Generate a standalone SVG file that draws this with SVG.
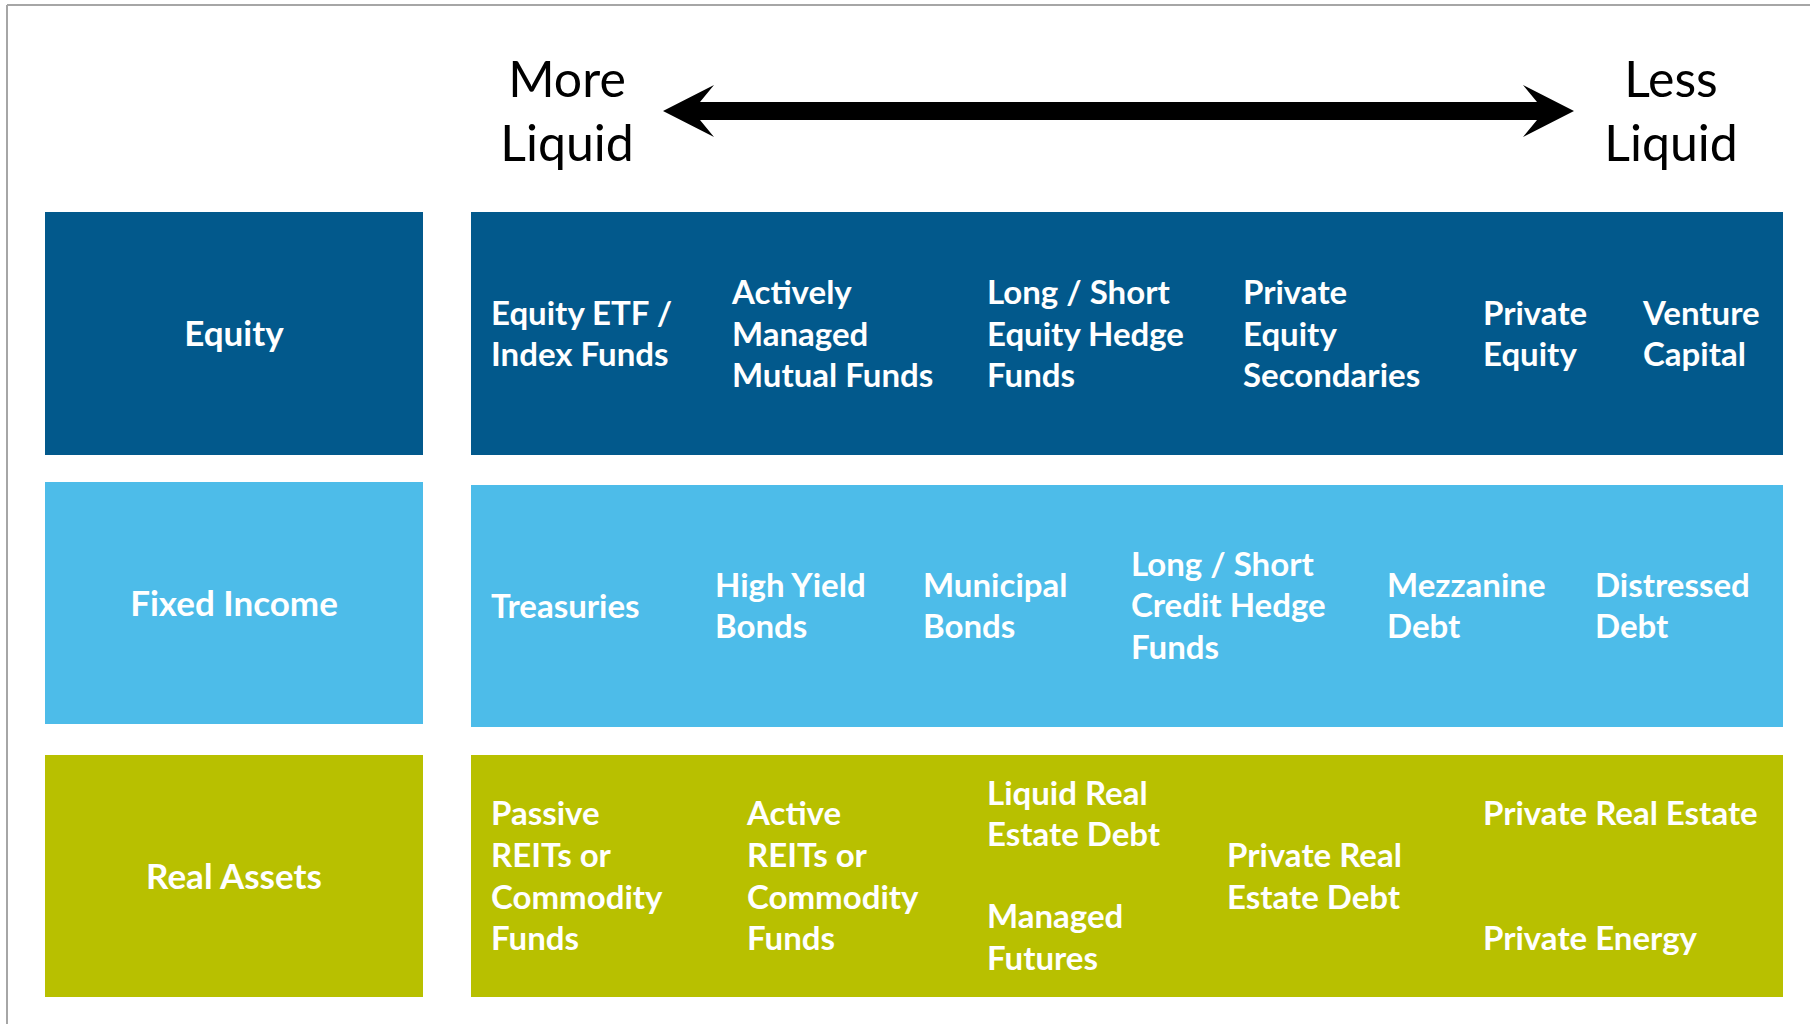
<svg xmlns="http://www.w3.org/2000/svg" width="1810" height="1024" viewBox="0 0 1810 1024">
  <style>
    .frame { stroke: #A6A6A6; stroke-width: 2; fill: none; }
    .equity { fill: #02598C; }
    .fixed { fill: #4DBCE9; }
    .real { fill: #B8C000; }
    .axis { font-family: Lato, "Open Sans", "Liberation Sans", sans-serif; font-size: 50px; fill: #000000; text-anchor: middle; }
    .cat { font-family: Lato, "Open Sans", "Liberation Sans", sans-serif; font-weight: bold; font-size: 35px; fill: #FFFFFF; text-anchor: middle; }
    .item { font-family: Lato, "Open Sans", "Liberation Sans", sans-serif; font-weight: bold; font-size: 33px; fill: #FFFFFF; }
  </style>

  <rect x="0" y="0" width="1810" height="1024" fill="#FFFFFF"/>
  <!-- page frame -->
  <line class="frame" x1="7" y1="5" x2="1810" y2="5"/>
  <line class="frame" x1="7" y1="5" x2="7" y2="1024"/>

  <!-- liquidity scale -->
  <g id="axis-labels">
    <text class="axis" x="567" y="97">More</text>
    <text class="axis" x="567" y="161">Liquid</text>
    <text class="axis" x="1671" y="97">Less</text>
    <text class="axis" x="1671" y="161">Liquid</text>
  </g>
  <g id="connectors">
    <path d="M663,111 L714,85 L700,102 L1537,102 L1523,85 L1574,111 L1523,137 L1537,120 L700,120 L714,137 Z" fill="#000000"/>
  </g>

  <!-- Equity row -->
  <g id="equity-label">
    <rect class="equity" x="45" y="212" width="378" height="243"/>
    <text class="cat" x="234" y="346">Equity</text>
  </g>
  <g id="equity-items">
    <rect class="equity" x="471" y="212" width="1312" height="243"/>
    <text class="item" x="491" y="325">Equity ETF /</text>
    <text class="item" x="491" y="366">Index Funds</text>
    <text class="item" x="732" y="304">Actively</text>
    <text class="item" x="732" y="346">Managed</text>
    <text class="item" x="732" y="387">Mutual Funds</text>
    <text class="item" x="987" y="304">Long / Short</text>
    <text class="item" x="987" y="346">Equity Hedge</text>
    <text class="item" x="987" y="387">Funds</text>
    <text class="item" x="1243" y="304">Private</text>
    <text class="item" x="1243" y="346">Equity</text>
    <text class="item" x="1243" y="387">Secondaries</text>
    <text class="item" x="1483" y="325">Private</text>
    <text class="item" x="1483" y="366">Equity</text>
    <text class="item" x="1643" y="325">Venture</text>
    <text class="item" x="1643" y="366">Capital</text>
  </g>

  <!-- Fixed Income row -->
  <g id="fixed-income-label">
    <rect class="fixed" x="45" y="482" width="378" height="242"/>
    <text class="cat" x="234" y="616">Fixed Income</text>
  </g>
  <g id="fixed-income-items">
    <rect class="fixed" x="471" y="485" width="1312" height="242"/>
    <text class="item" x="491" y="618">Treasuries</text>
    <text class="item" x="715" y="597">High Yield</text>
    <text class="item" x="715" y="638">Bonds</text>
    <text class="item" x="923" y="597">Municipal</text>
    <text class="item" x="923" y="638">Bonds</text>
    <text class="item" x="1131" y="576">Long / Short</text>
    <text class="item" x="1131" y="617">Credit Hedge</text>
    <text class="item" x="1131" y="659">Funds</text>
    <text class="item" x="1387" y="597">Mezzanine</text>
    <text class="item" x="1387" y="638">Debt</text>
    <text class="item" x="1595" y="597">Distressed</text>
    <text class="item" x="1595" y="638">Debt</text>
  </g>

  <!-- Real Assets row -->
  <g id="real-assets-label">
    <rect class="real" x="45" y="755" width="378" height="242"/>
    <text class="cat" x="234" y="889">Real Assets</text>
  </g>
  <g id="real-assets-items">
    <rect class="real" x="471" y="755" width="1312" height="242"/>
    <text class="item" x="491" y="825">Passive</text>
    <text class="item" x="491" y="867">REITs or</text>
    <text class="item" x="491" y="909">Commodity</text>
    <text class="item" x="491" y="950">Funds</text>
    <text class="item" x="747" y="825">Active</text>
    <text class="item" x="747" y="867">REITs or</text>
    <text class="item" x="747" y="909">Commodity</text>
    <text class="item" x="747" y="950">Funds</text>
    <text class="item" x="987" y="805">Liquid Real</text>
    <text class="item" x="987" y="846">Estate Debt</text>
    <text class="item" x="987" y="928">Managed</text>
    <text class="item" x="987" y="970">Futures</text>
    <text class="item" x="1227" y="867">Private Real</text>
    <text class="item" x="1227" y="909">Estate Debt</text>
    <text class="item" x="1483" y="825">Private Real Estate</text>
    <text class="item" x="1483" y="950">Private Energy</text>
  </g>
</svg>
